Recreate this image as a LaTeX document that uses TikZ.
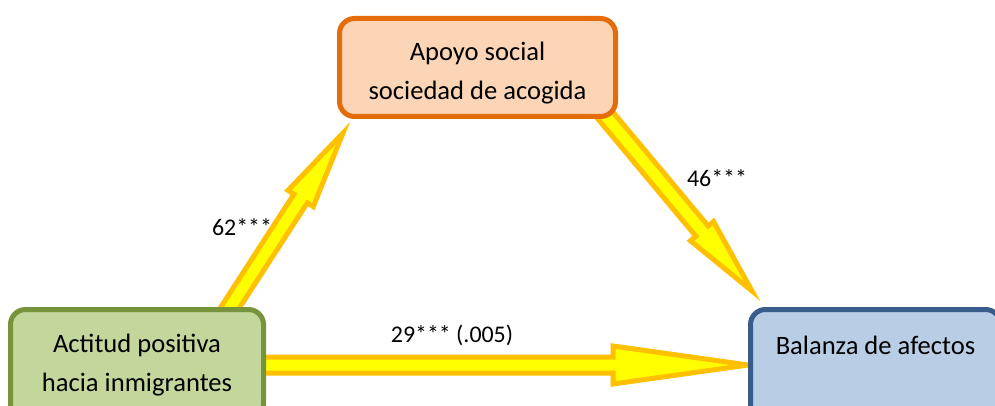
\documentclass[tikz,border=0pt]{standalone}
\usepackage{fontspec}
\setmainfont{Carlito}
\usetikzlibrary{calc,backgrounds}

\definecolor{naranja}{HTML}{E46C0A}
\definecolor{melocoton}{HTML}{FBD5B5}
\definecolor{verdeoscuro}{HTML}{77933C}
\definecolor{verdeclaro}{HTML}{C3D69B}
\definecolor{azuloscuro}{HTML}{385D8A}
\definecolor{azulclaro}{HTML}{B9CDE5}
\definecolor{oro}{HTML}{FFC000}
\definecolor{amarillo}{HTML}{FFFF00}

\tikzset{
  caja/.style={rounded corners=0.375cm, line width=0.125cm, align=center,
    font=\fontsize{18.9}{27.7}\selectfont},
  etiqueta/.style={font=\fontsize{17}{20}\selectfont},
  flechaestilo/.style={draw=oro, fill=amarillo, line width=0.125cm, line join=miter}
}

%% block arrow: from, to, half shaft width, head length, half head width
\newcommand{\flecha}[5]{%
  \draw[flechaestilo] ($(#1)!#3!90:(#2)$) -- ($(#2)!#4!(#1)!#3!-90:(#1)$)
    -- ($(#2)!#4!(#1)!#5!-90:(#1)$) -- (#2) -- ($(#2)!#4!(#1)!#5!90:(#1)$)
    -- ($(#2)!#4!(#1)!#3!90:(#1)$) -- ($(#1)!#3!-90:(#2)$) -- cycle;}

\begin{document}
\begin{tikzpicture}
        \useasboundingbox (0,0) rectangle (24.875,10.125);
        %% the three boxes
        \node[caja, draw=naranja, fill=melocoton, minimum width=6.9cm, minimum height=2.45cm]
          (apoyo) at (11.9375,8.4375) {\rule{0pt}{21pt}Apoyo social\\sociedad de acogida};
        \node[caja, draw=verdeoscuro, fill=verdeclaro, minimum width=6.325cm, minimum height=2.775cm]
          (actitud) at (3.425,1.0) {Actitud positiva\\hacia inmigrantes};
        \node[caja, draw=azuloscuro, fill=azulclaro, minimum width=6.25cm, minimum height=2.775cm]
          (balanza) at (21.8875,1.0) {Balanza de afectos\\\mbox{}};
        %% arrows go behind the boxes
        \begin{scope}[on background layer]
        \coordinate (ia) at ([xshift=-1.1cm, yshift=-0.325cm]actitud.north east);
        \coordinate (fa) at ([xshift=0.15cm, yshift=-0.35cm]apoyo.south west);
        \coordinate (ib) at ([xshift=-0.575cm, yshift=0.4cm]apoyo.south east);
        \coordinate (fb) at ([xshift=0.1cm, yshift=0.4cm]balanza.north west);
        \coordinate (ic) at ([xshift=-0.2cm]actitud.east);
        \coordinate (fc) at (balanza.west |- actitud.east);
        \flecha{ia}{fa}{0.2cm}{1.95cm}{0.375cm}
        \flecha{ib}{fb}{0.2cm}{1.95cm}{0.375cm}
        \flecha{ic}{fc}{0.2cm}{3.375cm}{0.475cm}
        \end{scope}
        %% path coefficients
        \node[etiqueta] (coefa) at (6.05,4.45) {62***};
        \node[etiqueta] (coefb) at (17.925,5.675) {46***};
        \node[etiqueta] (coefc) at (11.3,1.75) {29*** (.005)};
    \end{tikzpicture}
\end{document}
